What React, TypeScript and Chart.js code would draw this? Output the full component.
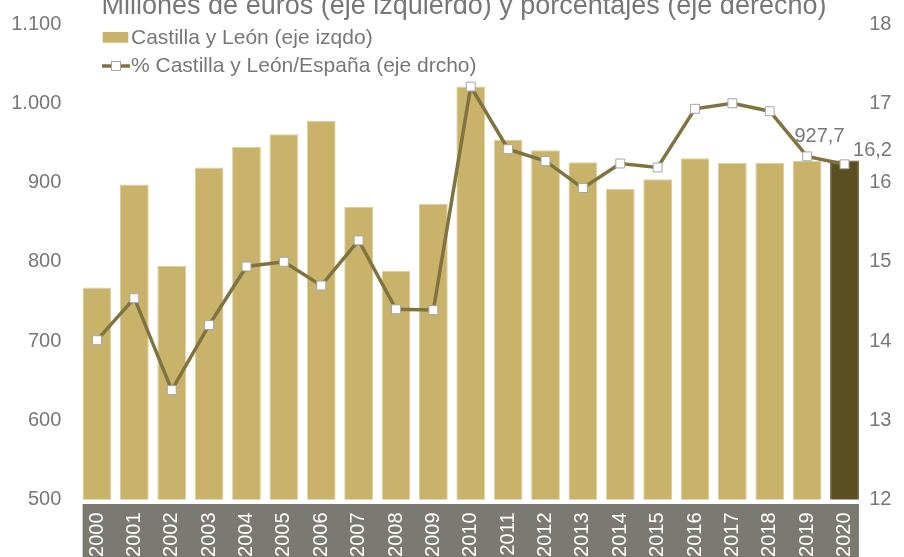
import { useEffect, useRef } from 'react';
import { Chart, registerables } from 'chart.js';

Chart.register(...registerables);

const years = ['2000', '2001', '2002', '2003', '2004', '2005', '2006', '2007', '2008', '2009', '2010',
  '2011', '2012', '2013', '2014', '2015', '2016', '2017', '2018', '2019', '2020'];
const barValues = [767.6, 897.5, 794.5, 919, 945, 961, 978, 869, 788.5, 873, 1021,
  953.7, 940.7, 925.6, 892, 904, 930.6, 924.7, 924.7, 927, 927.7];
const shareValues = [14.01, 14.54, 13.38, 14.2, 14.94, 15.0, 14.7, 15.27, 14.4, 14.39, 17.21,
  16.42, 16.27, 15.93, 16.24, 16.19, 16.93, 17.0, 16.9, 16.33, 16.23];
const leftTicks = [500, 600, 700, 800, 900, 1000, 1100];
const rightTicks = [12, 13, 14, 15, 16, 17, 18];
const titleText = 'Millones de euros (eje izquierdo) y porcentajes (eje derecho)';
const barLabel = 'Castilla y León (eje izqdo)';
const lineLabel = '% Castilla y León/España (eje drcho)';

const GOLD = '#C9B36A';
const DARK = '#5C4F22';
const OLIVE = '#7F7440';
const GRAY_TEXT = '#777777';
const BAND = '#7A7A72';
const FONT = '"Liberation Sans", Arial, sans-serif';

const fmtThousands = (v: number) => {
  const s = String(Math.round(v));
  return s.replace(/\B(?=(\d{3})+(?!\d))/g, '.');
};
const fmtDec = (v: number) => v.toFixed(1).replace('.', ',');

const bandPlugin = {
  id: 'band',
  beforeDraw(chart: any) {
    const meta = chart.getDatasetMeta(0);
    const els = meta.data;
    if (!els || !els.length) return;
    const first = els[0];
    const last = els[els.length - 1];
    const x0 = first.x - first.width / 2;
    const x1 = last.x + last.width / 2;
    const ctx = chart.ctx;
    ctx.save();
    ctx.fillStyle = BAND;
    ctx.fillRect(x0, chart.chartArea.bottom + 4.5, x1 - x0, chart.height);
    ctx.restore();
  },
};

const decorPlugin = {
  id: 'decor',
  afterDatasetsDraw(chart: any) {
    const ctx = chart.ctx;
    ctx.save();
    const barMeta = chart.getDatasetMeta(0);
    const lineMeta = chart.getDatasetMeta(1);
    const n = barValues.length - 1;
    const bar = barMeta.data[n];
    const pt = lineMeta.data[n];
    ctx.fillStyle = GRAY_TEXT;
    ctx.font = `20px ${FONT}`;
    ctx.textBaseline = 'alphabetic';
    ctx.textAlign = 'center';
    ctx.fillText(fmtDec(barValues[n]), bar.x - 25, bar.y - 19);
    ctx.textAlign = 'left';
    ctx.fillText(fmtDec(shareValues[n]), pt.x + 8.5, pt.y - 8);
    ctx.restore();
  },
  afterDraw(chart: any) {
    const ctx = chart.ctx;
    ctx.save();
    ctx.fillStyle = GRAY_TEXT;
    ctx.font = `27px ${FONT}`;
    ctx.textAlign = 'center';
    ctx.textBaseline = 'alphabetic';
    ctx.fillText(titleText, 464, 14);
    ctx.font = `21px ${FONT}`;
    ctx.textAlign = 'left';
    ctx.textBaseline = 'middle';
    ctx.fillStyle = GOLD;
    ctx.fillRect(102.7, 32, 25.6, 10.7);
    ctx.fillStyle = GRAY_TEXT;
    ctx.fillText(barLabel, 131, 38);
    ctx.strokeStyle = OLIVE;
    ctx.lineWidth = 3.5;
    ctx.beginPath();
    ctx.moveTo(102, 66);
    ctx.lineTo(130, 66);
    ctx.stroke();
    ctx.fillStyle = '#FFFFFF';
    ctx.strokeStyle = '#A6A6A6';
    ctx.lineWidth = 1;
    ctx.fillRect(111.5, 61.5, 9, 9);
    ctx.strokeRect(111.5, 61.5, 9, 9);
    ctx.fillStyle = GRAY_TEXT;
    ctx.fillText(lineLabel, 131, 66);
    ctx.restore();
  },
};

export default function App() {
  const ref = useRef<HTMLCanvasElement | null>(null);
  useEffect(() => {
    if (!ref.current) return;
    Chart.defaults.font.family = FONT;
    const chart = new Chart(ref.current, {
      type: 'bar',
      data: {
        labels: years,
        datasets: [
          {
            type: 'bar',
            label: barLabel,
            data: barValues,
            yAxisID: 'y',
            backgroundColor: barValues.map((_, i) => (i === barValues.length - 1 ? DARK : GOLD)),
            borderColor: barValues.map((_, i) => (i === barValues.length - 1 ? DARK : '#DCCF9E')),
            borderWidth: 1,
            categoryPercentage: 1,
            barPercentage: 0.77,
            order: 1,
          },
          {
            type: 'line',
            label: lineLabel,
            data: shareValues,
            yAxisID: 'y1',
            borderColor: OLIVE,
            borderWidth: 3.5,
            pointStyle: 'rect',
            pointRadius: 6.3,
            pointBackgroundColor: '#FFFFFF',
            pointBorderColor: '#A6A6A6',
            pointBorderWidth: 1,
            tension: 0,
            order: 0,
          },
        ],
      },
      options: {
        responsive: true,
        maintainAspectRatio: false,
        animation: false,
        layout: { padding: { top: 24, left: 0, right: 0, bottom: 0 } },
        plugins: {
          legend: { display: false },
          title: { display: false },
          tooltip: { enabled: false },
        },
        scales: {
          x: {
            offset: true,
            grid: { display: false, drawTicks: false },
            border: { display: false },
            ticks: {
              color: '#FFFFFF',
              font: { size: 20, family: FONT },
              minRotation: 90,
              maxRotation: 90,
              autoSkip: false,
              padding: 13,
            },
            afterFit(scale: any) {
              scale.height = 57.5;
              scale.paddingLeft = 0;
              scale.paddingRight = 0;
            },
          },
          y: {
            position: 'left',
            min: leftTicks[0],
            max: leftTicks[leftTicks.length - 1],
            grid: { display: false, drawTicks: false },
            border: { display: false },
            afterBuildTicks(scale: any) {
              scale.ticks = leftTicks.map((v) => ({ value: v }));
            },
            ticks: {
              color: GRAY_TEXT,
              font: { size: 20, family: FONT },
              padding: 17,
              callback: (v: any) => fmtThousands(Number(v)),
            },
            afterFit(scale: any) {
              scale.width = 78.3;
              scale.paddingTop = 0;
              scale.paddingBottom = 0;
            },
          },
          y1: {
            position: 'right',
            min: rightTicks[0],
            max: rightTicks[rightTicks.length - 1],
            grid: { display: false, drawTicks: false },
            border: { display: false },
            afterBuildTicks(scale: any) {
              scale.ticks = rightTicks.map((v) => ({ value: v }));
            },
            ticks: {
              color: GRAY_TEXT,
              font: { size: 20, family: FONT },
              padding: 6,
              callback: (v: any) => String(v),
            },
            afterFit(scale: any) {
              scale.width = 40.8;
              scale.paddingTop = 0;
              scale.paddingBottom = 0;
            },
          },
        },
      },
      plugins: [bandPlugin, decorPlugin],
    });
    return () => chart.destroy();
  }, []);
  return (
    <div style={{ position: 'fixed', left: 0, top: 0, width: 904, height: 557, background: '#FFFFFF' }}>
      <canvas ref={ref} />
    </div>
  );
}
